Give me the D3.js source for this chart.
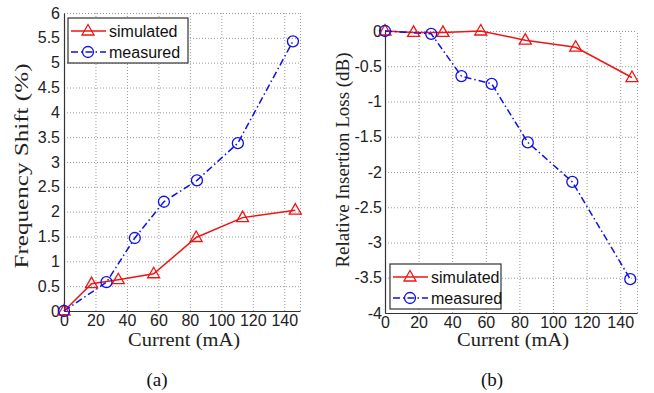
<!DOCTYPE html>
<html>
<head>
<meta charset="utf-8">
<script src="https://cdn.jsdelivr.net/npm/d3@7"></script>
<style>
	body { margin: 0; background: #fff; }
	.tick text { font-family: "Liberation Sans", Arial, sans-serif; font-size: 16px; fill: #222; }
	.grid line { stroke: #9a9a9a; stroke-dasharray: 1,2; }
	.grid path { display: none; }
	.axis path { stroke: #333; }
	.title { font-family: "Liberation Serif", "Times New Roman", serif; font-size: 18px; fill: #222; }
	.caption { font-family: "Liberation Serif", "Times New Roman", serif; font-size: 19px; fill: #111; }
	.legend text { font-family: "Liberation Sans", Arial, sans-serif; font-size: 16px; fill: #111; }
</style>
</head>
<body>
<svg id="chart" width="654" height="393"></svg>
<script>
// current (mA) and values
var freqSimX = [0, 17.5, 34.5, 57, 84, 113.5, 147];
var freqSimY = [0, 0.55, 0.63, 0.75, 1.48, 1.88, 2.03];
var freqMeasX = [0, 27, 45, 63.5, 84.5, 110.5, 145.5];
var freqMeasY = [0, 0.58, 1.47, 2.2, 2.63, 3.38, 5.43];

var lossSimX = [0, 17, 34.5, 57, 83.5, 113.5, 147];
var lossSimY = [0, -0.02, -0.02, 0, -0.13, -0.23, -0.66];
var lossMeasX = [0, 27.5, 45.5, 63.5, 85, 111.5, 146];
var lossMeasY = [0, -0.04, -0.64, -0.75, -1.58, -2.14, -3.52];

var xTicks = [0, 20, 40, 60, 80, 100, 120, 140];
var freqTicks = [0, 0.5, 1, 1.5, 2, 2.5, 3, 3.5, 4, 4.5, 5, 5.5, 6];
var lossTicks = [0, -0.5, -1, -1.5, -2, -2.5, -3, -3.5, -4];

var seriesNames = ["simulated", "measured"];

var svg = d3.select("#chart");

var red = "#f01414", blue = "#1010e8";
var dashDot = "7,3,1.5,3";

var line = d3.line()
	.x(function(d) { return d[0]; })
	.y(function(d) { return d[1]; });

function triangle(sel) {
	sel.append("path")
		.attr("d", "M0,-6.5L6,4L-6,4Z")
		.attr("fill", "none")
		.attr("stroke", red)
		.attr("stroke-width", 1.3);
}

function circle(sel) {
	sel.append("circle")
		.attr("r", 5.5)
		.attr("fill", "none")
		.attr("stroke", blue)
		.attr("stroke-width", 1.3);
}

var drawPanel = function(opt) {

	var x = d3.scaleLinear().domain([0, 150]).range([opt.left, opt.right]);
	var y = d3.scaleLinear().domain(opt.yDomain).range([opt.bottom, opt.top]);
	var width = opt.right - opt.left, height = opt.bottom - opt.top;

	var g = svg.append("g");

	// dotted grid
	g.append("g")
		.attr("class", "grid")
		.attr("transform", "translate(0," + opt.bottom + ")")
		.call(d3.axisBottom(x).tickValues(xTicks.concat([150])).tickSize(-height).tickFormat(""));
	g.append("g")
		.attr("class", "grid")
		.attr("transform", "translate(" + opt.left + ",0)")
		.call(d3.axisLeft(y).tickValues(opt.yTicks).tickSize(-width).tickFormat(""));

	// axes
	g.append("g")
		.attr("class", "axis")
		.attr("transform", "translate(0," + opt.bottom + ")")
		.call(d3.axisBottom(x).tickValues(xTicks).tickSize(0).tickPadding(4).tickFormat(String));
	g.append("g")
		.attr("class", "axis")
		.attr("transform", "translate(" + opt.left + ",0)")
		.call(d3.axisLeft(y).tickValues(opt.yTicks).tickSize(0).tickPadding(opt.yPad).tickFormat(String));
	g.selectAll(".axis .domain").attr("stroke-width", 1.2);

	// series
	var sim = opt.simX.map(function(v, i) { return [x(v), y(opt.simY[i])]; });
	var meas = opt.measX.map(function(v, i) { return [x(v), y(opt.measY[i])]; });

	g.append("path")
		.attr("d", line(sim))
		.attr("fill", "none")
		.attr("stroke", red)
		.attr("stroke-width", 1.5);
	g.append("path")
		.attr("d", line(meas))
		.attr("fill", "none")
		.attr("stroke", blue)
		.attr("stroke-width", 1.5)
		.attr("stroke-dasharray", dashDot);

	g.selectAll(".sim-mark").data(sim).enter().append("g")
		.attr("transform", function(d) { return "translate(" + d[0] + "," + d[1] + ")"; })
		.call(triangle);
	g.selectAll(".meas-mark").data(meas).enter().append("g")
		.attr("transform", function(d) { return "translate(" + d[0] + "," + d[1] + ")"; })
		.call(circle);

	// axis titles (the original serif is wider, so stretch the glyphs a bit)
	g.append("text")
		.attr("class", "title")
		.attr("x", opt.xTitle[0])
		.attr("y", opt.xTitle[1])
		.attr("text-anchor", "middle")
		.attr("textLength", 112)
		.attr("lengthAdjust", "spacingAndGlyphs")
		.text("Current (mA)");
	g.append("text")
		.attr("class", "title")
		.attr("transform", "translate(" + opt.yTitle[0] + "," + opt.yTitle[1] + ") rotate(-90)")
		.attr("text-anchor", "middle")
		.attr("textLength", opt.yTitle[2])
		.attr("lengthAdjust", "spacingAndGlyphs")
		.text(opt.yLabel);
	g.append("text")
		.attr("class", "caption")
		.attr("x", opt.caption[0])
		.attr("y", opt.caption[1])
		.attr("text-anchor", "middle")
		.text(opt.captionText);

	// legend
	var lg = g.append("g")
		.attr("class", "legend")
		.attr("transform", "translate(" + opt.legend[0] + "," + opt.legend[1] + ")");
	lg.append("rect")
		.attr("width", opt.legend[2])
		.attr("height", 45)
		.attr("fill", "#fff")
		.attr("stroke", "#333")
		.attr("stroke-width", 1.2);
	seriesNames.forEach(function(name, i) {
		var row = lg.append("g").attr("transform", "translate(0," + (13 + i * 21) + ")");
		row.append("line")
			.attr("x1", 3).attr("x2", 38)
			.attr("stroke", i === 0 ? red : blue)
			.attr("stroke-width", 1.5)
			.attr("stroke-dasharray", i === 0 ? null : dashDot);
		row.append("g").attr("transform", "translate(20,0)").call(i === 0 ? triangle : circle);
		row.append("text")
			.attr("x", 41)
			.attr("dy", "0.35em")
			.text(name);
	});
};

drawPanel({
	left: 64, right: 300, top: 13, bottom: 311,
	yDomain: [0, 6], yTicks: freqTicks, yPad: 4,
	simX: freqSimX, simY: freqSimY, measX: freqMeasX, measY: freqMeasY,
	xTitle: [184, 346], yTitle: [28, 166, 205], yLabel: "Frequency Shift (%)",
	caption: [157, 386], captionText: "(a)",
	legend: [68, 18, 120]
});

drawPanel({
	left: 385, right: 637, top: 31, bottom: 313,
	yDomain: [-4, 0], yTicks: lossTicks, yPad: 3,
	simX: lossSimX, simY: lossSimY, measX: lossMeasX, measY: lossMeasY,
	xTitle: [513, 346], yTitle: [349, 160, 215], yLabel: "Relative Insertion Loss (dB)",
	caption: [492, 386], captionText: "(b)",
	legend: [390, 264, 111]
});
</script>
</body>
</html>
